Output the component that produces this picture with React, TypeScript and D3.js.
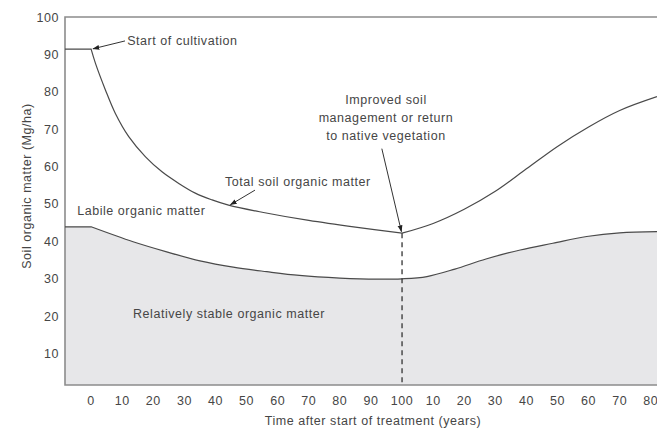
import React, { useEffect } from 'react';
import * as d3 from 'd3';

// Total soil organic matter (Mg/ha) over time; years 100+ are after treatment change
const totalYears = [-8.4, 0, 1.4, 4.6, 7.8, 12.1, 17.5, 22.8, 28.2, 33.5, 38.9, 44.2, 55, 70, 85, 100, 110, 120, 130, 140, 150, 160, 170, 182];
const totalSOM = [91.4, 91.4, 87.6, 80.5, 74.2, 68, 62.6, 58.6, 55.5, 52.9, 51.1, 49.7, 47.8, 45.6, 43.8, 42.2, 44.8, 48.6, 53.4, 59.4, 65.4, 70.6, 75, 78.7];

// Boundary between labile and relatively stable organic matter
const stableYears = [-8.4, 0, 13.5, 24.3, 35, 45.7, 56.5, 67, 80, 92, 100, 108, 117, 127, 138, 148.5, 159.4, 170, 182];
const stableSOM = [43.9, 43.9, 39.9, 37.2, 34.8, 33.1, 31.9, 30.9, 30.2, 29.9, 30, 30.6, 32.6, 35.3, 37.7, 39.5, 41.3, 42.3, 42.6];

const xTicks = [0, 10, 20, 30, 40, 50, 60, 70, 80, 90, 100, 110, 120, 130, 140, 150, 160, 170, 180];
const yTicks = [10, 20, 30, 40, 50, 60, 70, 80, 90, 100];

const W = 657;
const H = 428;
const FONT = '"Liberation Sans", Arial, sans-serif';
const TXT = '#464646';
const LINE = '#4a4a4a';

export default function App() {
  useEffect(() => {
    document.body.style.margin = '0';
  }, []);

  const x = d3.scaleLinear().domain([-8.4, 182]).range([65, 657]);
  const y = d3.scaleLinear().domain([1.6, 100]).range([385, 17]);

  const pts = (xs: number[], ys: number[]) => xs.map((t, i) => [t, ys[i]] as [number, number]);
  const line = d3
    .line<[number, number]>()
    .x((d) => x(d[0]))
    .y((d) => y(d[1]))
    .curve(d3.curveCatmullRom.alpha(0.5));

  const total = pts(totalYears, totalSOM);
  const turn = totalYears.indexOf(100);
  const totalPath =
    (line(total.slice(0, 2)) || '') +
    'L' + (line(total.slice(1, turn + 1)) || '').slice(1) +
    'L' + (line(total.slice(turn)) || '').slice(1);

  const stable = pts(stableYears, stableSOM);
  const stableLine =
    (line(stable.slice(0, 2)) || '') + 'L' + (line(stable.slice(1)) || '').slice(1);
  const stableArea =
    `M${x(-8.4)},${y(1.6)}L` + stableLine.slice(1) + `L${x(182)},${y(1.6)}Z`;

  const txt = {
    fontFamily: FONT,
    fontSize: 12.5,
    fill: TXT,
    letterSpacing: 0.55,
  } as React.CSSProperties;

  return (
    <svg width={W} height={H} style={{ display: 'block', background: '#fff' }}>
      <defs>
        <marker id="arr" viewBox="0 0 10 10" refX="9" refY="5" markerWidth="7" markerHeight="7" orient="auto">
          <path d="M0,1.5L10,5L0,8.5Z" fill="#222" />
        </marker>
      </defs>

      {/* stable organic matter fill */}
      <path d={stableArea} fill="#e7e7e9" />

      {/* frame */}
      <path
        d={`M${x(182) + 5},${y(100)}H${x(-8.4)}V${y(1.6)}H${x(182) + 5}`}
        fill="none"
        stroke="#8c8c8c"
        strokeWidth={1.6}
      />

      {/* curves */}
      <path d={stableLine} fill="none" stroke={LINE} strokeWidth={1.2} />
      <path d={totalPath} fill="none" stroke={LINE} strokeWidth={1.2} />

      {/* treatment change */}
      <line
        x1={x(100)}
        x2={x(100)}
        y1={y(42.2)}
        y2={y(1.6)}
        stroke="#333"
        strokeWidth={1.3}
        strokeDasharray="5,4"
      />

      {/* y ticks */}
      {yTicks.map((v) => (
        <text key={v} x={59} y={y(v) + 4.5} textAnchor="end" style={txt}>
          {v}
        </text>
      ))}

      {/* x ticks */}
      {xTicks.map((t) => (
        <text key={t} x={x(t)} y={404.5} textAnchor="middle" style={txt}>
          {t <= 100 ? t : t - 100}
        </text>
      ))}

      <text x={373} y={425} textAnchor="middle" style={txt}>
        Time after start of treatment (years)
      </text>
      <text transform="translate(31,186) rotate(-90)" textAnchor="middle" style={txt}>
        Soil organic matter (Mg/ha)
      </text>

      {/* annotations */}
      <line x1={x(10.9)} y1={y(93.6)} x2={x(0.6)} y2={y(91.5)} stroke="#333" strokeWidth={1} markerEnd="url(#arr)" />
      <text x={x(11.6)} y={y(93.6) + 4} style={txt}>
        Start of cultivation
      </text>

      <text x={x(-4.5)} y={215} style={txt}>
        Labile organic matter
      </text>

      <line x1={x(52.7)} y1={y(53.7)} x2={x(44.8)} y2={y(49.8)} stroke="#333" strokeWidth={1} markerEnd="url(#arr)" />
      <text x={225} y={186} style={txt}>
        Total soil organic matter
      </text>

      <line x1={x(93.5)} y1={y(64.8)} x2={x(99.8)} y2={y(42.6)} stroke="#333" strokeWidth={1} markerEnd="url(#arr)" />
      <text x={386} y={104} textAnchor="middle" style={txt}>
        Improved soil
      </text>
      <text x={386} y={122} textAnchor="middle" style={txt}>
        management or return
      </text>
      <text x={386} y={140} textAnchor="middle" style={txt}>
        to native vegetation
      </text>

      <text x={133} y={318} style={txt}>
        Relatively stable organic matter
      </text>
    </svg>
  );
}
